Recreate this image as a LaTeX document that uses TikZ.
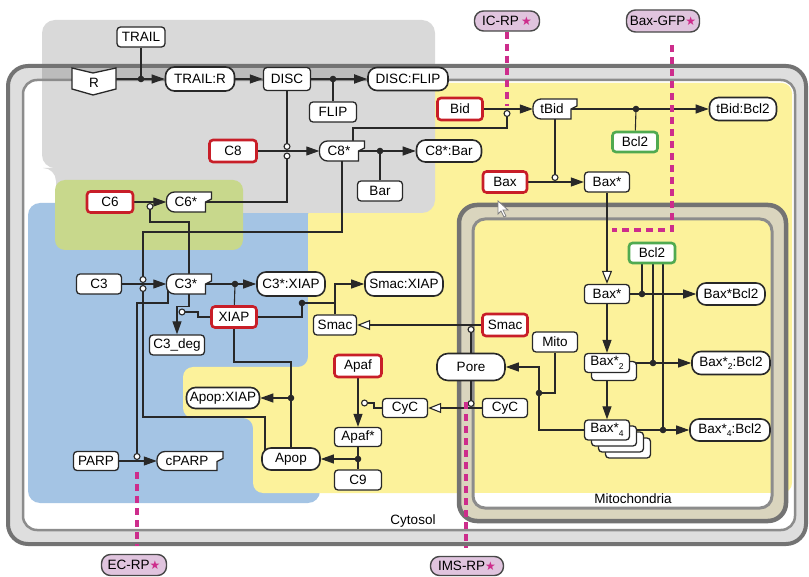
\documentclass[tikz,border=0pt]{standalone}
\usepackage{fontspec}
\setmainfont{Liberation Sans}
\newfontfamily\starfont{DejaVu Sans}
\usetikzlibrary{arrows.meta}
\pgfdeclarelayer{bg}
\pgfdeclarelayer{wires}
\pgfsetlayers{bg,wires,main}
\definecolor{bluebg}{RGB}{164,196,228}
\definecolor{yellowbg}{RGB}{252,242,155}
\definecolor{greenbg}{RGB}{200,216,140}
\definecolor{graybg}{RGB}{217,217,217}
\definecolor{memdark}{RGB}{115,115,115}
\definecolor{memmid}{RGB}{140,140,140}
\definecolor{mitoband}{RGB}{218,213,190}
\definecolor{redb}{RGB}{200,30,40}
\definecolor{greenb}{RGB}{80,170,80}
\definecolor{lilac}{RGB}{224,196,222}
\definecolor{magline}{RGB}{205,45,140}
\definecolor{ink}{RGB}{40,40,40}
\newcommand\actnode[6]{%
  \pgfmathsetmacro\actL{#2-#4/2}\pgfmathsetmacro\actR{#2+#4/2}%
  \pgfmathsetmacro\actT{#3-#5/2}\pgfmathsetmacro\actB{#3+#5/2}%
  \pgfmathsetmacro\actXa{\actL+16}\pgfmathsetmacro\actRn{\actR-6}%
  \pgfmathsetmacro\actTa{\actT+7}\pgfmathsetmacro\actTb{\actT+10}%
  \draw[actline] (\actXa,\actB) [rounded corners=8pt] -- (\actL,\actB) -- (\actL,\actT) -- (\actXa,\actT) [sharp corners] -- (\actR,\actT) -- (\actR,\actTa) -- (\actRn,\actTb) -- (\actRn,\actB) -- cycle;
  \node[inner sep=0pt,minimum width=#4pt,minimum height=#5pt] (#1) at (#2,#3) {};
  \node (#1-t) at ({#2-3},#3) {#6};%
}
\newcommand\stackbox[4]{\draw[draw=ink,line width=1.3pt,fill=white,rounded corners=3.5pt] ({#1-#3/2},{#2-#4/2}) rectangle ({#1+#3/2},{#2+#4/2});}
\newcommand\subtwo[1]{\raisebox{-3.5pt}{\fontsize{8.5}{8.5}\selectfont #1}}
\newcommand\rpstar{{\starfont\color{magline}\fontsize{12}{12}\selectfont ★}}
\begin{document}
\begin{tikzpicture}[x=1pt,y=-1pt,
  font=\fontsize{13.5}{14}\selectfont,
  box/.style={draw=ink,line width=1.3pt,fill=white,rounded corners=3.5pt,minimum width=45pt,minimum height=20pt,inner sep=0pt},
  redbox/.style={box,draw=redb,line width=2.6pt},
  grnbox/.style={box,draw=greenb,line width=2.6pt},
  pill/.style={box,rounded corners=9pt,line width=1.6pt,minimum height=23pt},
  rep/.style={box,fill=lilac,draw=ink!85,line width=1.4pt,rounded corners=9pt,minimum height=21pt},
  actline/.style={draw=ink,line width=1.3pt,fill=white},
  wire/.style={draw=ink,line width=1.1pt},
  arr/.style={wire,-{Triangle[length=13pt,width=9pt]}},
  oarr/.style={wire,-{Triangle[length=13pt,width=10pt,fill=white]}},
  cat/.style={wire,-{Circle[length=7pt,fill=white]}},
  mag/.style={draw=magline,line width=3.5pt,dash pattern=on 7pt off 5pt}]
\useasboundingbox (0,0) rectangle (809,577);
\begin{pgfonlayer}{bg}
\fill[white] (0,0) rectangle (809,577);
\fill[bluebg,rounded corners=12pt] (28,203) rectangle (320,503);
\fill[yellowbg,rounded corners=10pt] (420,83) -- (792,83) -- (792,493) -- (253,493) -- (253,418) -- (183,418) -- (183,367) -- (308,367) -- (308,205) -- (420,205) -- cycle;
\fill[graybg,rounded corners=13pt] (42,20) -- (435,20) -- (435,213) -- (56,213) -- (56,168) -- (42,168) -- cycle;
\fill[greenbg,rounded corners=10pt] (55,180) rectangle (243,250);
\fill[black,opacity=0.13,even odd rule] [rounded corners=20pt] (8,66) rectangle (806,544) [rounded corners=14pt] (23,80) rectangle (795,530);
\draw[memdark,line width=4pt,rounded corners=20pt] (8,66) rectangle (806,544);
\draw[memmid,line width=2.5pt,rounded corners=14pt] (23,80) rectangle (795,530);
\fill[mitoband,rounded corners=18pt] (459,205) rectangle (786,521);
\fill[white,rounded corners=12pt] (473,219) rectangle (772,508);
\begin{scope}
\clip[rounded corners=12pt] (473,219) rectangle (772,508);
\fill[yellowbg] (473,219) rectangle (772,493);
\end{scope}
\draw[memdark,line width=4.5pt,rounded corners=18pt] (459,205) rectangle (786,521);
\draw[memmid,line width=3pt,rounded corners=12pt] (473,219) rectangle (772,508);
\node (cytlab) at (413,521) {Cytosol};
\node (mitolab) at (633,499) {Mitochondria};
\filldraw[fill=white,draw=gray,line width=0.8pt] (498,201) -- (498,214) -- (501,211) -- (504,217) -- (506,216) -- (503,210) -- (508,210) -- cycle;
\end{pgfonlayer}

% receptor
\filldraw[fill=white,draw=ink,line width=1.3pt] (72,68) -- (93,73) -- (116,68) -- (116,89) -- (93,95) -- (72,89) -- cycle;
\node[inner sep=0pt,minimum width=44pt,minimum height=21pt] (r) at (94,79) {};
\node (rlabel) at (94,83) {R};

% nodes: top
\node[box,minimum width=48pt] (trail) at (141,37) {TRAIL};
\node[pill,minimum width=69pt,minimum height=24pt] (trailr) at (200,79) {TRAIL:R};
\node[box,minimum width=47pt,minimum height=23pt] (disc) at (287,79) {DISC};
\node[pill,minimum width=80pt] (discflip) at (408,79) {DISC:FLIP};
\node[box,minimum width=47pt] (flip) at (333,112) {FLIP};
\node[redbox,minimum height=22pt] (bid) at (460,109) {Bid};
\actnode{tbid}{555}{109}{44}{20}{tBid}
\node[pill,minimum width=67pt] (tbidbcl) at (743,109) {tBid:Bcl2};
\node[grnbox] (bcl2a) at (635,142) {Bcl2};
\node[redbox,minimum width=47pt,minimum height=22pt] (c8) at (233,151) {C8};
\actnode{c8s}{342}{151}{45}{20}{C8*}
\node[pill,minimum width=65pt,minimum height=22pt] (c8bar) at (449,151) {C8*:Bar};
\node[box] (bar) at (380,191) {Bar};
\node[redbox,minimum width=44pt,minimum height=21pt] (bax) at (505,182) {Bax};
\node[box] (baxs) at (607,182) {Bax*};

% left
\node[redbox,minimum width=46pt,minimum height=21pt] (c6) at (110,202) {C6};
\actnode{c6s}{189}{202}{45}{20}{C6*}
\node[box] (c3) at (99,284) {C3};
\actnode{c3s}{189}{284}{45}{20}{C3*}
\node[pill,minimum width=68pt,minimum height=24pt] (c3xiap) at (291,284) {C3*:XIAP};
\node[pill,minimum width=78pt,minimum height=24pt] (smacxiap) at (404,284) {Smac:XIAP};
\node[redbox,minimum height=21pt] (xiap) at (234,317) {XIAP};
\node[box,minimum width=55pt] (c3deg) at (177,345) {C3\_deg};
\node[box,minimum width=43pt] (smacc) at (335,325) {Smac};
\node[redbox,minimum height=22pt] (smacm) at (505,325) {Smac};
\node[redbox,minimum width=47pt,minimum height=22pt] (apaf) at (358,366) {Apaf};
\node[box] (mito) at (555,342) {Mito};
\node[pill,rounded corners=11pt,minimum width=68pt,minimum height=27pt] (pore) at (471,367) {Pore};
\node[pill,minimum width=73pt,minimum height=21pt] (apopxiap) at (223,398) {Apop:XIAP};
\node[box,minimum height=19pt] (cycc) at (405,408) {CyC};
\node[box,minimum height=19pt] (cycm) at (505,408) {CyC};
\node[box,minimum width=47pt,minimum height=19pt] (apafs) at (358,437) {Apaf*};
\node[pill,minimum width=58pt,minimum height=22pt] (apop) at (291,459) {Apop};
\node[box,minimum width=47pt] (c9) at (358,480) {C9};
\node[box,minimum height=19pt] (parp) at (96,461) {PARP};
\actnode{cparp}{190}{461}{66}{19}{cPARP}

% mitochondria
\node[grnbox,minimum width=46pt] (bcl2b) at (652,253) {Bcl2};
\node[box,minimum height=19pt] (baxm) at (607,294) {Bax*};
\node[pill,minimum width=68pt,minimum height=22pt] (baxbcl) at (731,294) {Bax*Bcl2};
\stackbox{614}{371}{45}{19}
\node[box,minimum height=19pt] (bax2) at (607,363) {Bax*\subtwo{2}};
\node[pill,minimum width=78pt] (bax2bcl) at (731,363) {Bax*\subtwo{2}:Bcl2};
\stackbox{628}{448}{45}{20}
\stackbox{621}{442}{45}{20}
\stackbox{614}{436}{45}{20}
\node[box] (bax4) at (607,430) {Bax*\subtwo{4}};
\node[pill,minimum width=80pt,minimum height=22pt] (bax4bcl) at (730,430) {Bax*\subtwo{4}:Bcl2};

% reporters
\node[rep,minimum width=65pt,minimum height=20pt] (icrp) at (507,21) {IC-RP\,\rpstar};
\node[rep,minimum width=73pt,minimum height=22pt] (baxgfp) at (663,21) {Bax-GFP\rpstar};
\node[rep,minimum width=65pt] (ecrp) at (134,565) {EC-RP\rpstar};
\node[rep,minimum width=73pt,minimum height=19pt] (imsrp) at (467,566) {IMS-RP\rpstar};

% coordinates
\coordinate (dT) at (141,79);
\coordinate (dF) at (333,79);
\coordinate (dB) at (380,151);
\coordinate (dBc) at (636,109);
\coordinate (dX) at (235,284);
\coordinate (dS) at (302,303);
\coordinate (dP) at (539,393);
\coordinate (d1) at (642,294);
\coordinate (d2) at (653,363);
\coordinate (d3) at (663,430);
\coordinate (dA) at (358,459);
\coordinate (dAX) at (291,398);
\coordinate (kDISC) at (287,150);
\coordinate (kC6) at (287,152.5);
\coordinate (kBid) at (507,110);
\coordinate (kBax) at (555,181);
\coordinate (kC3a) at (143,283);
\coordinate (kC3b) at (143,285);
\coordinate (kC6b) at (150,203);
\coordinate (kX) at (178.5,312);
\coordinate (kSm) at (471,326);
\coordinate (kCy) at (471,407);
\coordinate (kAp) at (361,403);
\coordinate (kP) at (137,460);
\coordinate (gfpa) at (672,45);
\coordinate (gfpb) at (612,230);
\coordinate (eca) at (137,472);
\coordinate (ecb) at (137,546);
\coordinate (imsa) at (466,402);
\coordinate (imsb) at (466,548);

\begin{pgfonlayer}{wires}
\draw[wire] (r.east) -- (dT);
\draw[arr] (dT) -- (trailr);
\draw[wire] (trail) -- (dT);
\draw[arr] (trailr) -- (disc);
\draw[wire,line width=1.8pt] (disc) -- (dF);
\draw[arr,line width=1.8pt] (dF) -- (discflip);
\draw[wire] (flip) -- (dF);
\draw[cat] (disc) -- (kDISC);
\draw[arr] (c8) -- (c8s);
\draw[cat] (c6s.center) -| (kC6);
\draw[wire] (c8s.center) -- (dB);
\draw[arr] (dB) -- (c8bar);
\draw[wire] (bar) -- (dB);
\draw[cat] ([xshift=11pt]c8s.north) |- (507,128) -- (kBid);
\draw[arr] (bid) -- (tbid);
\draw[wire] (tbid.center) -- (dBc);
\draw[arr] (dBc) -- (tbidbcl);
\draw[wire] (bcl2a) -- (dBc);
\draw[cat] (tbid) -- (kBax);
\draw[arr] (bax) -- (baxs);
\draw[oarr] (baxs) -- (baxm);
\draw[cat] (c8s.south) |- (143,232) -- (kC3a);
\draw[arr] (c3) -- (c3s);
\draw[cat] ([xshift=-26pt,yshift=-6pt]apop.north) |- (143,417) -- (kC3b);
\draw[arr] (c6) -- (c6s);
\draw[cat] (c3s.north) |- (150,222) -- (kC6b);
\draw[wire] (c3s.center) -- (dX);
\draw[arr] (dX) -- (c3xiap);
\draw[wire] (xiap) -- (dX);
\draw[arr] (c3s.south) -- ++(0,12) -| (c3deg.north);
\draw[cat] (xiap.west) -- (198,317) -- (198,312) -- (kX);
\draw[wire] (xiap.east) -| (dS);
\draw[wire] (dS) -- (smacc.north |- dS);
\draw[arr] (smacc.north) |- (smacxiap.west);
\draw[oarr] (smacm) -- (smacc);
\draw[cat] (pore) -- (kSm);
\draw[oarr] (cycm) -- (cycc);
\draw[cat] (pore) -- (kCy);
\draw[wire] (mito.south) |- (dP);
\draw[wire] (bax4.west) -| (dP);
\draw[arr] (dP) |- (pore.east);
\draw[wire] (baxm) -- (d1);
\draw[arr] (d1) -- (baxbcl);
\draw[wire] (bcl2b.south -| d1) -- (d1);
\draw[wire] (bax2) -- (d2);
\draw[arr] (d2) -- (bax2bcl);
\draw[wire] (bcl2b.south -| d2) -- (d2);
\draw[wire] (bax4) -- (d3);
\draw[arr] (d3) -- (bax4bcl);
\draw[wire] (bcl2b.south -| d3) -- (d3);
\draw[arr] (baxm) -- (bax2);
\draw[arr] (bax2) -- (bax4);
\draw[arr] (apaf) -- (apafs);
\draw[cat] (cycc.west) -- (374,408) -- (374,403) -- (kAp);
\draw[wire] (apafs) -- (dA);
\draw[wire] (c9) -- (dA);
\draw[arr] (dA) -- (apop);
\draw[wire] (xiap.south) |- (291,362) -- (dAX);
\draw[wire] (apop) -- (dAX);
\draw[arr] (dAX) -- (apopxiap);
\draw[cat] ([xshift=-21pt,yshift=5pt]c3s.south) |- (137,303) -- (kP);
\draw[arr] (parp) -- (cparp);
\foreach \d in {dT,dF,dB,dBc,dX,dS,dP,d1,d2,d3,dA,dAX} \fill[ink] (\d) circle (3.3pt);
\end{pgfonlayer}

% reporter dashes
\draw[mag] (icrp.south) -- (507,106);
\draw[mag] (gfpa) |- (gfpb);
\draw[mag] (eca) -- (ecb);
\draw[mag] (imsa) -- (imsb);
\end{tikzpicture}
\end{document}
